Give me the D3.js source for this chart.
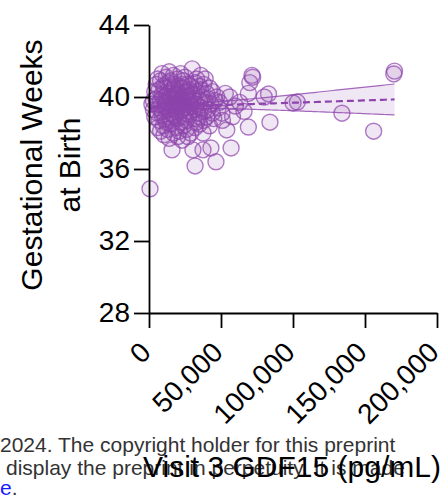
<!DOCTYPE html>
<html>
<head>
<meta charset="utf-8">
<script src="https://cdn.jsdelivr.net/npm/d3@7"></script>
<style>
  html, body { margin: 0; padding: 0; background: #fff; }
  svg { display: block; font-family: "Liberation Sans", Arial, sans-serif; }
</style>
</head>
<body>
<svg id="chart" width="443" height="502"></svg>
<script>
// Visit 3 GDF15 concentration (pg/mL) for each participant
const gdf15 = [
  6000, 9000, 12000, 14000, 17000, 20000, 22000, 25000, 30000, 33000, 36000, 39000,
  5000, 8000, 10000, 13000, 15000, 18000, 21000, 24000, 27000, 29000, 32000, 35000, 38000, 42000,
  4000, 7000, 9000, 11000, 13000, 16000, 18000, 20000, 23000, 25000, 28000, 30000, 33000, 36000, 40000, 44000, 47000,
  5000, 6000, 8000, 10000, 12000, 14000, 16000, 17000, 19000, 21000, 22000, 24000, 26000, 27000, 29000, 31000, 33000, 35000, 37000, 39000, 41000, 43000, 46000, 49000,
  3000, 6000, 7000, 9000, 11000, 13000, 15000, 17000, 19000, 20000, 23000, 25000, 27000, 28000, 30000, 32000, 34000, 36000, 38000, 41000, 44000, 48000,
  4000, 7000, 9000, 11000, 12000, 14000, 16000, 18000, 20000, 22000, 24000, 26000, 28000, 31000, 33000, 35000, 38000, 40000, 45000, 50700, 51000,
  6000, 8000, 10000, 13000, 15000, 17000, 19000, 21000, 24000, 26000, 29000, 32000, 35000, 37500, 42000, 54000,
  10400, 14000, 20000, 27000, 23000,
  15000, 18000, 21000, 23000, 26000, 19000, 24000, 28000, 16000, 22000, 14000, 25000, 20000, 17000, 29000, 12000, 31000, 27000, 18000, 23000,
  2000, 3000,
  700, 32000, 46500, 16000, 30500, 37500, 43000, 57000, 69000, 84000, 156000, 134000, 100000, 103000,
  83000, 80000, 71500, 72000, 70000, 69000, 66000, 56000, 53000, 170500, 170000, 60000, 63000, 58000
];

// Gestational age at birth (weeks), same order as gdf15
const gaWeeks = [
  41.0, 41.3, 41.1, 41.4, 41.2, 41.0, 41.3, 41.1, 41.56, 41.0, 41.2, 41.0,
  40.7, 40.9, 40.6, 40.8, 40.9, 40.7, 40.6, 40.9, 40.7, 40.6, 40.8, 40.6, 40.7, 40.5,
  40.3, 40.4, 40.1, 40.5, 40.2, 40.4, 40.1, 40.3, 40.5, 40.2, 40.4, 40.1, 40.3, 40.4, 40.2, 40.3, 40.0,
  39.9, 39.6, 39.8, 40.0, 39.7, 39.9, 39.6, 39.8, 40.0, 39.7, 39.9, 39.6, 39.8, 40.0, 39.7, 39.9, 39.6, 39.8, 40.0, 39.7, 39.9, 39.6, 39.8, 39.7,
  39.3, 39.1, 39.4, 39.2, 39.5, 39.3, 39.1, 39.4, 39.2, 39.5, 39.3, 39.1, 39.4, 39.2, 39.5, 39.3, 39.1, 39.4, 39.2, 39.3, 39.1, 39.4,
  38.9, 38.7, 39.0, 38.8, 38.6, 38.9, 38.7, 39.0, 38.8, 38.6, 38.9, 38.7, 39.0, 38.8, 38.6, 38.9, 38.7, 38.9, 38.8, 39.1, 38.7,
  38.3, 38.1, 38.4, 38.2, 38.5, 38.0, 38.3, 38.1, 38.4, 38.2, 38.0, 38.3, 38.5, 38.0, 38.4, 38.17,
  37.9, 37.7, 37.8, 37.8, 37.6,
  40.0, 39.5, 40.2, 39.8, 40.3, 39.9, 39.4, 39.8, 40.2, 39.2, 39.5, 40.0, 39.6, 40.5, 39.5, 40.0, 40.2, 39.6, 38.9, 40.7,
  39.6, 39.8,
  34.9, 36.17, 36.4, 37.06, 37.06, 37.06, 37.17, 37.17, 38.33, 38.6, 38.1, 39.1, 39.67, 39.72,
  40.17, 40.0, 41.2, 41.1, 40.8, 40.2, 39.2, 40.0, 40.2, 41.44, 41.28, 39.5, 39.7, 38.9
];

// Axis ticks
const xTicks = [0, 50000, 100000, 150000, 200000];
const yTicks = [28, 32, 36, 40, 44];

// Footer lines of the preprint page
const footerLines = [
  "2024. The copyright holder for this preprint",
  "display the preprint in perpetuity. It is made"
];

const purple = "#8e44ad";
const svg = d3.select("#chart");

const x = d3.scaleLinear().domain([0, 200000]).range([149, 437]);
const y = d3.scaleLinear().domain([28, 44]).range([313, 25]);

// Footer text sits underneath the chart
const footer = svg.append("g").attr("fill", "#333").style("font-size", "21px");
footer.append("text").attr("x", 0).attr("y", 452).text(footerLines[0]);
footer.append("text").attr("x", 6).attr("y", 475).text(footerLines[1]);
const l3 = footer.append("text").attr("x", 0).attr("y", 495);
l3.append("tspan").attr("fill", "#1a1aff").text("e");
l3.append("tspan").text(".");

// Points
const pts = gdf15.map((v, i) => ({ x: v, y: gaWeeks[i] }));
svg.append("g").selectAll("circle").data(pts).join("circle")
  .attr("cx", d => x(d.x))
  .attr("cy", d => y(d.y))
  .attr("r", 8)
  .attr("fill", purple).attr("fill-opacity", 0.13)
  .attr("stroke", purple).attr("stroke-opacity", 0.7).attr("stroke-width", 1.4);

// Linear regression with 95% confidence band
const n = pts.length;
const mx = d3.mean(pts, d => d.x), my = d3.mean(pts, d => d.y);
const sxx = d3.sum(pts, d => (d.x - mx) ** 2);
const sxy = d3.sum(pts, d => (d.x - mx) * (d.y - my));
const slope = sxy / sxx, intercept = my - slope * mx;
const s = Math.sqrt(d3.sum(pts, d => (d.y - intercept - slope * d.x) ** 2) / (n - 2));
const t = 1.97;
const xMax = d3.max(gdf15);
const grid = d3.range(0, 101).map(k => xMax * k / 100);
const band = grid.map(v => {
  const fit = intercept + slope * v;
  const h = t * s * Math.sqrt(1 / n + (v - mx) ** 2 / sxx);
  return { x: v, fit, lo: fit - h, hi: fit + h };
});

svg.append("path").datum(band)
  .attr("fill", purple).attr("fill-opacity", 0.13)
  .attr("d", d3.area().x(d => x(d.x)).y0(d => y(d.lo)).y1(d => y(d.hi)));
["lo", "hi"].forEach(k => {
  svg.append("path").datum(band)
    .attr("fill", "none").attr("stroke", purple).attr("stroke-opacity", 0.8).attr("stroke-width", 1.2)
    .attr("d", d3.line().x(d => x(d.x)).y(d => y(d[k])));
});
svg.append("path").datum(band)
  .attr("fill", "none").attr("stroke", purple).attr("stroke-width", 2.2)
  .attr("stroke-dasharray", "7,4")
  .attr("d", d3.line().x(d => x(d.x)).y(d => y(d.fit)));

// Axes
const yAxis = svg.append("g").attr("transform", "translate(149,0)")
  .call(d3.axisLeft(y).tickValues(yTicks).tickSize(15).tickSizeOuter(0).tickPadding(4));
yAxis.select(".domain").attr("stroke", "#000").attr("stroke-width", 1.8);
yAxis.selectAll(".tick line").attr("stroke", "#000").attr("stroke-width", 1.8);
yAxis.selectAll("text").attr("fill", "#000").style("font-size", "28px")
  .attr("font-family", "Liberation Sans, Arial, sans-serif");

const xAxis = svg.append("g").attr("transform", "translate(0,313)")
  .call(d3.axisBottom(x).tickValues(xTicks).tickFormat(d3.format(",")).tickSize(15).tickSizeOuter(0));
xAxis.select(".domain").attr("stroke", "#000").attr("stroke-width", 1.8);
xAxis.selectAll(".tick line").attr("stroke", "#000").attr("stroke-width", 1.8);
xAxis.selectAll("text").attr("fill", "#000").style("font-size", "28px")
  .attr("font-family", "Liberation Sans, Arial, sans-serif")
  .attr("x", 0).attr("y", 0).attr("dy", 0)
  .attr("transform", "translate(3,41) rotate(-45)")
  .style("text-anchor", "end");

// Axis titles
svg.append("text").attr("x", 292).attr("y", 477).attr("text-anchor", "middle")
  .style("font-size", "30px").attr("fill", "#000").text("Visit 3 GDF15 (pg/mL)");

const yTitle = svg.append("g").style("font-size", "30px").attr("fill", "#000");
yTitle.append("text").attr("transform", "translate(42,165) rotate(-90)")
  .attr("text-anchor", "middle").text("Gestational Weeks");
yTitle.append("text").attr("transform", "translate(80,165) rotate(-90)")
  .attr("text-anchor", "middle").text("at Birth");
</script>
</body>
</html>
